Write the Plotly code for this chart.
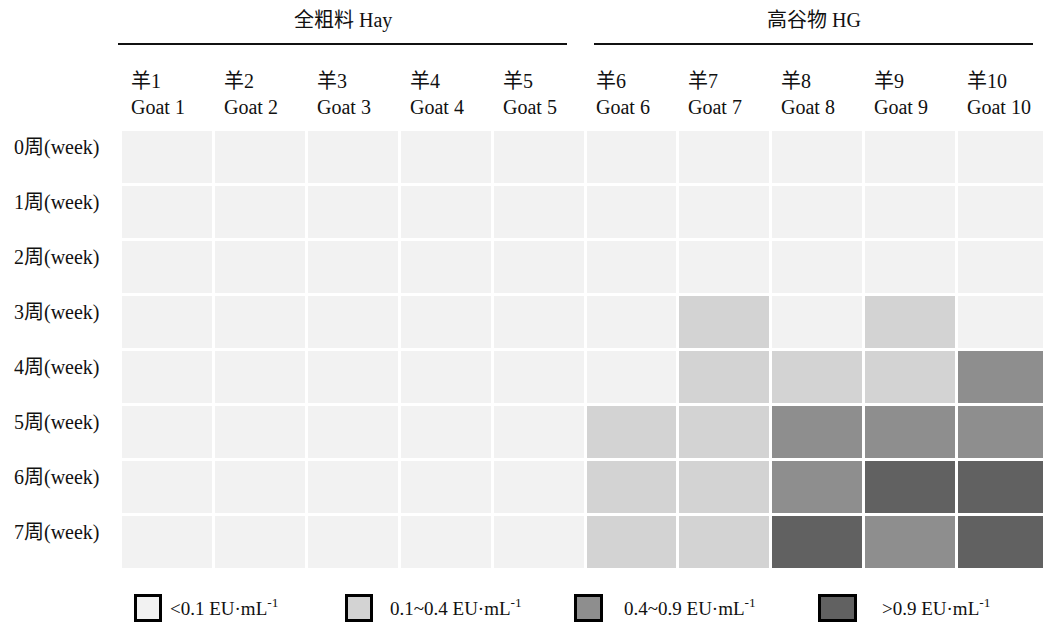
import plotly.graph_objects as go

# ---- data ----
goats_cn = ["羊1", "羊2", "羊3", "羊4", "羊5", "羊6", "羊7", "羊8", "羊9", "羊10"]
goats_en = ["Goat 1", "Goat 2", "Goat 3", "Goat 4", "Goat 5",
            "Goat 6", "Goat 7", "Goat 8", "Goat 9", "Goat 10"]
weeks = ["0周(week)", "1周(week)", "2周(week)", "3周(week)",
         "4周(week)", "5周(week)", "6周(week)", "7周(week)"]
groups = ["全粗料 Hay", "高谷物 HG"]
level_labels = ["<0.1 EU·mL<sup>-1</sup>", "0.1~0.4 EU·mL<sup>-1</sup>",
                "0.4~0.9 EU·mL<sup>-1</sup>", ">0.9 EU·mL<sup>-1</sup>"]
# LPS level class per week (rows) x goat (cols): 0 <0.1, 1 0.1-0.4, 2 0.4-0.9, 3 >0.9
week0 = [0, 0, 0, 0, 0, 0, 0, 0, 0, 0]
week1 = [0, 0, 0, 0, 0, 0, 0, 0, 0, 0]
week2 = [0, 0, 0, 0, 0, 0, 0, 0, 0, 0]
week3 = [0, 0, 0, 0, 0, 0, 1, 0, 1, 0]
week4 = [0, 0, 0, 0, 0, 0, 1, 1, 1, 2]
week5 = [0, 0, 0, 0, 0, 1, 1, 2, 2, 2]
week6 = [0, 0, 0, 0, 0, 1, 1, 2, 3, 3]
week7 = [0, 0, 0, 0, 0, 1, 1, 3, 2, 3]
levels = [week0, week1, week2, week3, week4, week5, week6, week7]

colors = ["#f2f2f2", "#d3d3d3", "#8e8e8e", "#616161"]

OFF = 8  # page body margin
W, H = 1051 - OFF, 624 - OFF
L, R, T, B = 121 - OFF, 1, 130 - OFF, 54
pw, ph = W - L - R, H - T - B

def px(x):
    return (x - OFF - L) / pw

def py(y):
    return (H - B - (y - OFF)) / ph

FONT = "Liberation Serif, Times New Roman, Noto Sans CJK SC, serif"

cs = []
for i, c in enumerate(colors):
    cs.append([i / 4, c])
    cs.append([(i + 1) / 4, c])

fig = go.Figure(go.Heatmap(
    z=levels, x=list(range(10)), y=list(range(len(weeks))),
    zmin=0, zmax=4, colorscale=cs, showscale=False,
    xgap=3, ygap=3, hoverinfo="skip",
))

ann = []
shapes = []
# column headers
for i in range(10):
    ann.append(dict(x=i - 0.5, y=py(94), xref="x", yref="paper",
                    text=goats_cn[i] + "<br>" + goats_en[i], showarrow=False,
                    xanchor="left", yanchor="middle", align="left", xshift=8,
                    font=dict(family=FONT, size=20, color="#111")))
# row labels
for j, w in enumerate(weeks):
    ann.append(dict(x=0, y=j, xref="paper", yref="y", text=w, showarrow=False,
                    xanchor="right", yanchor="middle", xshift=-19, yshift=10,
                    font=dict(family=FONT, size=20, color="#111")))
# group headers and lines
grp = [(groups[0], 118, 567), (groups[1], 594, 1033)]
for name, x0, x1 in grp:
    ann.append(dict(x=px((x0 + x1) / 2), y=py(20), xref="paper", yref="paper",
                    text=name, showarrow=False, xanchor="center", yanchor="middle",
                    font=dict(family=FONT, size=20, color="#111")))
    shapes.append(dict(type="line", xref="paper", yref="paper",
                       x0=px(x0), x1=px(x1), y0=py(44), y1=py(44),
                       line=dict(color="#111", width=2)))
# legend
leg = [(134, 162, 168), (345, 373, 388), (574, 603, 622), (818, 857, 880)]
for k, (b0, b1, tx) in enumerate(leg):
    shapes.append(dict(type="rect", xref="paper", yref="paper",
                       x0=px(b0 + 1.5), x1=px(b1 - 1.5), y0=py(595.5), y1=py(620.5),
                       fillcolor=colors[k], line=dict(color="#000", width=3)))
    ann.append(dict(x=px(tx), y=py(607), xref="paper", yref="paper",
                    text=level_labels[k], showarrow=False, xanchor="left",
                    yanchor="middle",
                    font=dict(family=FONT, size=19, color="#111")))

fig.update_layout(
    width=W, height=H, margin=dict(l=L, r=R, t=T, b=B),
    paper_bgcolor="white", plot_bgcolor="white",
    xaxis=dict(visible=False, range=[-0.5, 9.5], fixedrange=True),
    yaxis=dict(visible=False, range=[7.5, -0.5], fixedrange=True),
    annotations=ann, shapes=shapes, showlegend=False,
)

fig.write_html("out.html")
